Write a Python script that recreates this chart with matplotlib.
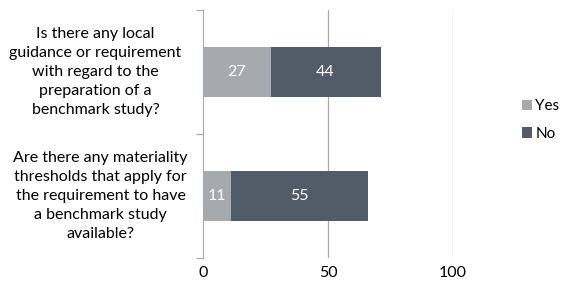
import numpy as np
import matplotlib
matplotlib.use("Agg")
import matplotlib.pyplot as plt

plt.rcParams['font.family'] = ['Lato', 'DejaVu Sans']

questions = [
    "Is there any local\nguidance or requirement\nwith regard to the\npreparation of a\nbenchmark study?",
    "Are there any materiality\nthresholds that apply for\nthe requirement to have\na benchmark study\navailable?",
]
yes_vals = [27, 11]
no_vals = [44, 55]
series_names = ["Yes", "No"]
colors = ["#a6a9ae", "#525c68"]

fig = plt.figure(figsize=(5.66, 2.85), dpi=100)
ax = fig.add_axes([203/566, 27/285, 250/566, 248/285])

y = np.arange(len(questions))
b1 = ax.barh(y, yes_vals, height=0.4, color=colors[0], label=series_names[0])
b2 = ax.barh(y, no_vals, left=yes_vals, height=0.4, color=colors[1], label=series_names[1])

for vals, lefts in [(yes_vals, [0, 0]), (no_vals, yes_vals)]:
    for yi, v, l in zip(y, vals, lefts):
        ax.text(l + v / 2, yi, str(v), ha='center', va='center', color='white', fontsize=11.5)

ax.set_xlim(0, 100)
ax.set_ylim(1.5, -0.5)
ax.set_xticks([0, 50, 100])
ax.tick_params(axis='x', length=0, labelsize=11.5, pad=6, colors='black')
ax.set_yticks([-0.5, 0.5, 1.5])
ax.set_yticklabels([])
ax.tick_params(axis='y', length=5, color='#a8a8a8', direction='out')
for s in ['top', 'right', 'bottom']:
    ax.spines[s].set_visible(False)
ax.spines['left'].set_color('#a8a8a8')
for xv in [50, 100]:
    ax.axvline(xv, color='#a8a8a8', lw=0.9, zorder=0)

for yi, q in zip(y, questions):
    ax.text(-0.43 if yi == 0 else -0.41, yi, q, transform=ax.get_yaxis_transform(),
            ha='center', va='center', fontsize=11.5, linespacing=1.45)

ax.legend(loc='center left', bbox_to_anchor=(1.275, 0.5 + (133 - 119) / 248), frameon=False,
          fontsize=11, handlelength=0.65, handleheight=0.65, handletextpad=0.25, labelspacing=0.9,
          borderpad=0, borderaxespad=0)

fig.savefig("out.png", dpi=100)
